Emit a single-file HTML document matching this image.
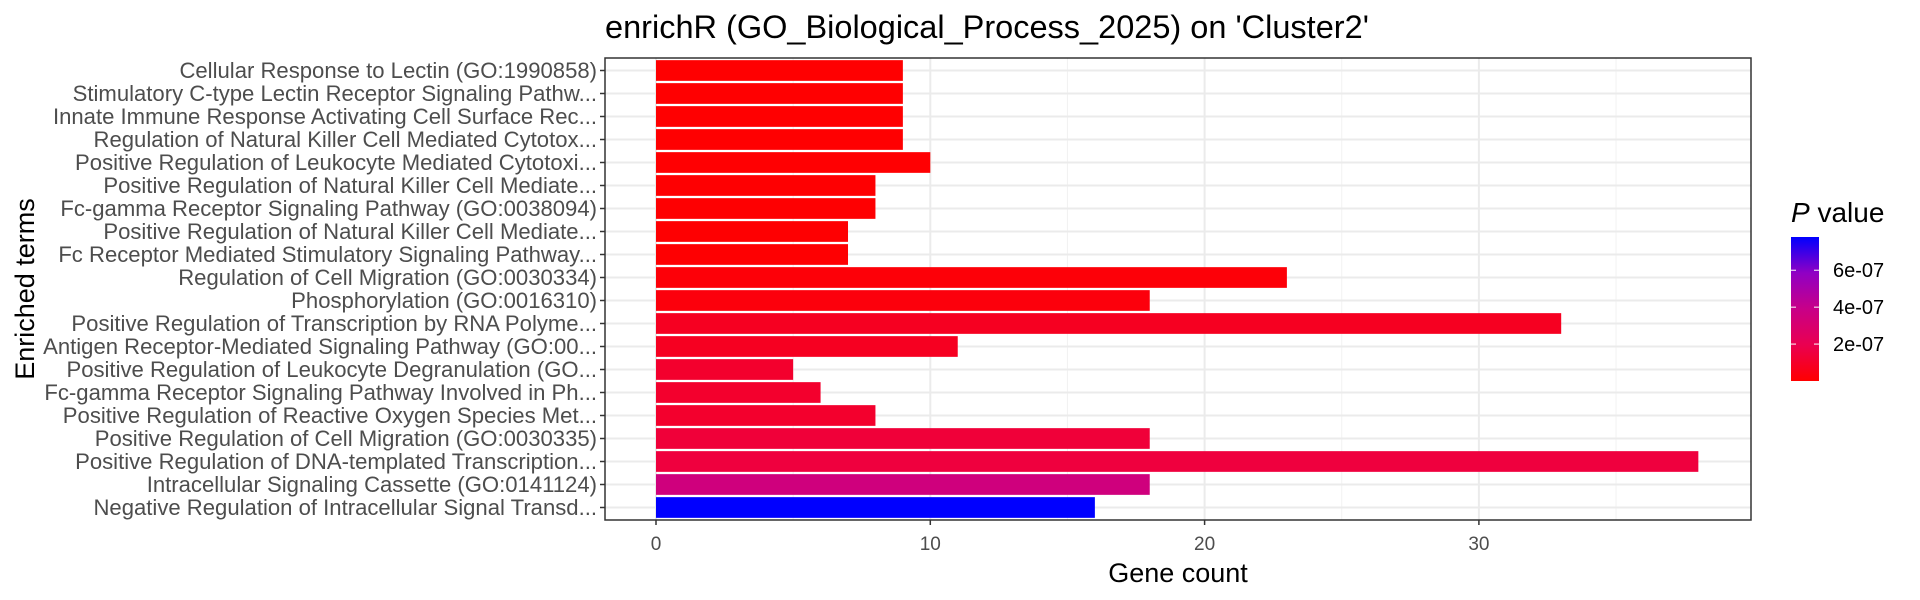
<!DOCTYPE html>
<html><head><meta charset="utf-8"><style>
html,body{margin:0;padding:0;background:#fff;}
svg{display:block;font-family:"Liberation Sans",sans-serif;}
</style></head><body>
<svg id="chart" width="1920" height="600" viewBox="0 0 1920 600">
<defs>
<linearGradient id="pgrad" x1="0" y1="1" x2="0" y2="0">
<stop offset="0" stop-color="#FF0000"/><stop offset="0.25" stop-color="#EA0050"/><stop offset="0.5" stop-color="#C80088"/><stop offset="0.75" stop-color="#9000C4"/><stop offset="1" stop-color="#0000FF"/>
</linearGradient>
</defs>
<text x="605" y="38" font-size="32.5" fill="#000">enrichR (GO_Biological_Process_2025) on 'Cluster2'</text>
<g id="grid"></g>
<g id="bars"></g>
<rect x="605" y="58" width="1146" height="462" fill="none" stroke="#333" stroke-width="1.5"/>
<g id="axes"></g>
<text x="1178" y="582" font-size="27" text-anchor="middle" fill="#000">Gene count</text>
<text transform="translate(34,289) rotate(-90)" font-size="27" text-anchor="middle" fill="#000">Enriched terms</text>
<g>
<text x="1791" y="222" font-size="28" fill="#000"><tspan font-style="italic">P</tspan> value</text>
<rect x="1791" y="237" width="28" height="144" fill="url(#pgrad)"/>
<g id="legticks"></g>
</g>
</svg>
<script>
const terms = ["Cellular Response to Lectin (GO:1990858)","Stimulatory C-type Lectin Receptor Signaling Pathw...","Innate Immune Response Activating Cell Surface Rec...","Regulation of Natural Killer Cell Mediated Cytotox...","Positive Regulation of Leukocyte Mediated Cytotoxi...","Positive Regulation of Natural Killer Cell Mediate...","Fc-gamma Receptor Signaling Pathway (GO:0038094)","Positive Regulation of Natural Killer Cell Mediate...","Fc Receptor Mediated Stimulatory Signaling Pathway...","Regulation of Cell Migration (GO:0030334)","Phosphorylation (GO:0016310)","Positive Regulation of Transcription by RNA Polyme...","Antigen Receptor-Mediated Signaling Pathway (GO:00...","Positive Regulation of Leukocyte Degranulation (GO...","Fc-gamma Receptor Signaling Pathway Involved in Ph...","Positive Regulation of Reactive Oxygen Species Met...","Positive Regulation of Cell Migration (GO:0030335)","Positive Regulation of DNA-templated Transcription...","Intracellular Signaling Cassette (GO:0141124)","Negative Regulation of Intracellular Signal Transd..."];
const counts = [9,9,9,9,10,8,8,7,7,23,18,33,11,5,6,8,18,38,18,16];
const pvalues = [3e-9,3e-9,3e-9,3e-9,4e-9,5e-9,5e-9,6e-9,6e-9,2e-8,3e-8,8e-8,8e-8,1.1e-7,1.1e-7,1.1e-7,1.4e-7,1.5e-7,3.5e-7,7.8e-7];
const xTicks = [0,10,20,30];
const xMinor = [5,15,25,35];
const legendTicks = [2e-7,4e-7,6e-7];
const legendLabels = ["2e-07","4e-07","6e-07"];

const NS="http://www.w3.org/2000/svg";
const pL=605,pR=1751,pT=58,pB=520;
const x=v=>656+v*27.43;
const y=i=>70.5+i*23.0;
const pMin=0,pMax=7.8e-7;
const ly=p=>381-(p-pMin)/(pMax-pMin)*144;
const stops=[[255,0,0],[234,0,80],[200,0,136],[144,0,196],[0,0,255]];
function col(p){let t=Math.max(0,Math.min(1,(p-pMin)/(pMax-pMin)))*4;let k=Math.min(3,Math.floor(t)),f=t-k;const a=stops[k],b=stops[k+1];return `rgb(${a.map((c,j)=>Math.round(c+(b[j]-c)*f)).join(',')})`;}
function mk(tag,attrs,parent){const e=document.createElementNS(NS,tag);for(const k in attrs)e.setAttribute(k,attrs[k]);parent.appendChild(e);return e;}
const grid=document.getElementById('grid'),bars=document.getElementById('bars'),axes=document.getElementById('axes'),lt=document.getElementById('legticks');
mk('rect',{x:pL,y:pT,width:pR-pL,height:pB-pT,fill:'#fff'},grid);
xMinor.forEach(v=>{const l=mk('line',{x1:x(v),x2:x(v),y1:pT,y2:pB,stroke:'#F2F2F2','stroke-width':1},grid);

});
xTicks.forEach(v=>{const l=mk('line',{x1:x(v),x2:x(v),y1:pT,y2:pB,stroke:'#EBEBEB','stroke-width':2},grid);

});
terms.forEach((t,i)=>{const l=mk('line',{x1:pL,x2:pR,y1:y(i),y2:y(i),stroke:'#EBEBEB','stroke-width':2},grid);

});
terms.forEach((t,i)=>{
const r=mk('rect',{x:x(0),y:y(i)-10.35,width:x(counts[i])-x(0),height:20.7,fill:col(pvalues[i])},bars);


const tk=mk('line',{x1:pL-5,x2:pL,y1:y(i),y2:y(i),stroke:'#333','stroke-width':1.5},axes);


const tx=mk('text',{x:pL-8,y:y(i)+7.5,'font-size':22.1,'text-anchor':'end',fill:'#4D4D4D'},axes);
tx.textContent=t;


});
xTicks.forEach(v=>{
const tk=mk('line',{x1:x(v),x2:x(v),y1:pB,y2:pB+5,stroke:'#333','stroke-width':1.5},axes);


const tx=mk('text',{x:x(v),y:550,'font-size':19,'text-anchor':'middle',fill:'#4D4D4D'},axes);
tx.textContent=v;


});
legendTicks.forEach((p,i)=>{
const a=mk('line',{x1:1791,x2:1796,y1:ly(p),y2:ly(p),stroke:'#fff','stroke-width':1},lt);


const b=mk('line',{x1:1814,x2:1819,y1:ly(p),y2:ly(p),stroke:'#fff','stroke-width':1},lt);


const tx=mk('text',{x:1833,y:ly(p)+7,'font-size':20,fill:'#000'},lt);
tx.textContent=legendLabels[i];


});
</script>
</body></html>
